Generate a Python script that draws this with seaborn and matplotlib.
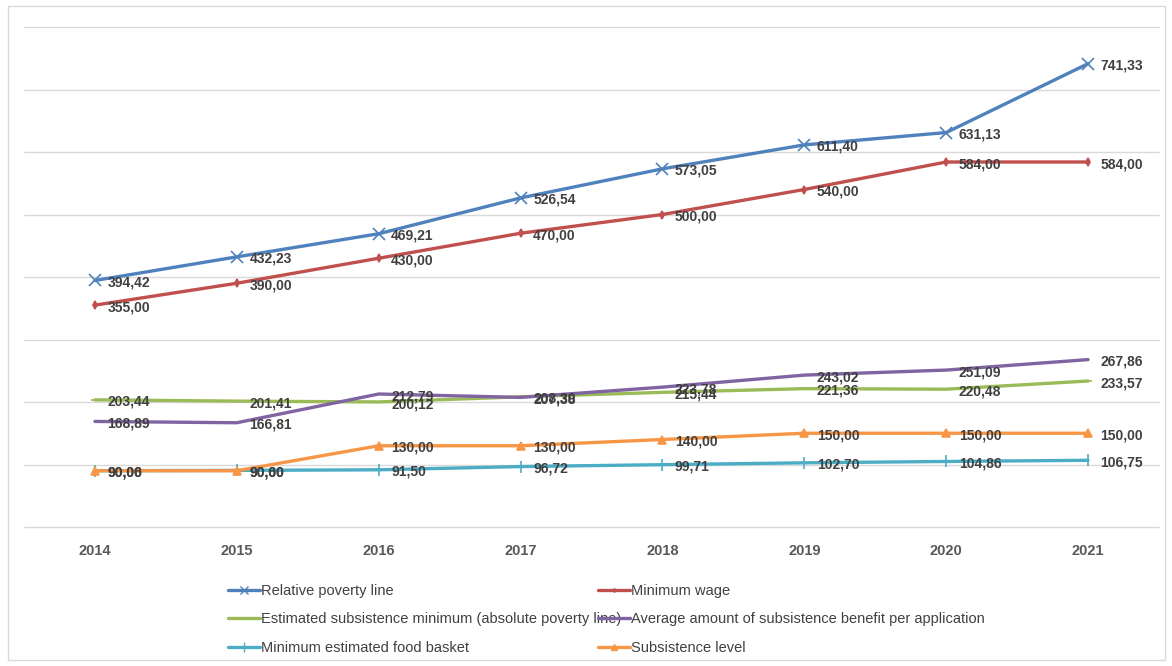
import matplotlib
matplotlib.use("Agg")
import matplotlib.pyplot as plt
import seaborn as sns
import pandas as pd
from matplotlib.patches import Rectangle
from matplotlib.lines import Line2D

years = ["2014", "2015", "2016", "2017", "2018", "2019", "2020", "2021"]
relative_poverty_line = [394.42, 432.23, 469.21, 526.54, 573.05, 611.40, 631.13, 741.33]
minimum_wage = [355.00, 390.00, 430.00, 470.00, 500.00, 540.00, 584.00, 584.00]
estimated_subsistence_minimum = [203.44, 201.41, 200.12, 208.30, 215.44, 221.36, 220.48, 233.57]
avg_subsistence_benefit = [168.89, 166.81, 212.79, 207.38, 223.78, 243.02, 251.09, 267.86]
food_basket = [90.06, 90.60, 91.50, 96.72, 99.71, 102.70, 104.86, 106.75]
subsistence_level = [90.00, 90.00, 130.00, 130.00, 140.00, 150.00, 150.00, 150.00]

series_names = [
    "Relative poverty line",
    "Minimum wage",
    "Estimated subsistence minimum (absolute poverty line)",
    "Average amount of subsistence benefit per application",
    "Minimum estimated food basket",
    "Subsistence level",
]
series_values = [relative_poverty_line, minimum_wage, estimated_subsistence_minimum,
                 avg_subsistence_benefit, food_basket, subsistence_level]
colors = ["#4F81BD", "#C0504D", "#9BBB59", "#8064A2", "#4BACC6", "#F79646"]
markers = ["x", "d", "_", "", "|", "^"]
msizes = [8, 4, 6, 0, 9, 6]

sns.set_theme(style="white")
plt.rcParams["font.family"] = ["Liberation Sans", "DejaVu Sans"]

rows = []
for name, vals in zip(series_names, series_values):
    for i, (y, v) in enumerate(zip(years, vals)):
        rows.append({"pos": i, "year": y, "value": v, "series": name})
df = pd.DataFrame(rows)

fig = plt.figure(figsize=(11.72, 6.66), dpi=100)
fig.patches.append(Rectangle((8 / 1172, 6 / 666), 1157 / 1172, 654 / 666, transform=fig.transFigure,
                             fill=False, edgecolor="#D9D9D9", linewidth=1.0))
ax = fig.add_axes([24 / 1172, 139 / 666, 1135 / 1172, 500 / 666])

for name, col, mk, ms in zip(series_names, colors, markers, msizes):
    sub = df[df["series"] == name]
    sns.lineplot(data=sub, x="pos", y="value", ax=ax, color=col, linewidth=2.4,
                 marker=mk if mk else None, markersize=ms, markeredgecolor=col,
                 markeredgewidth=1.2, legend=False)

label_font = dict(family=["Liberation Sans Narrow", "Liberation Sans", "DejaVu Sans"],
                  fontsize=10, fontweight="bold", color="#404040")
for name, vals in zip(series_names, series_values):
    for i, v in enumerate(vals):
        txt = f"{v:.2f}".replace(".", ",")
        ax.annotate(txt, xy=(i, v), xytext=(9, -1.5), textcoords="offset points",
                    ha="left", va="center", **label_font)

ax.set_xlim(-0.5, 7.5)
ax.set_ylim(0, 800)
ax.set_yticks(range(0, 801, 100))
ax.set_yticklabels([])
ax.set_xticks(range(len(years)))
ax.set_xticklabels(years, fontsize=10.5, fontweight="bold", color="#595959")
ax.tick_params(axis="x", length=0, pad=12)
ax.tick_params(axis="y", length=0)
ax.grid(axis="y", color="#D9D9D9", linewidth=1.0)
ax.grid(axis="x", visible=False)
for gl in ax.get_ygridlines():
    gl.set_clip_on(False)
for s in ax.spines.values():
    s.set_visible(False)
ax.set_xlabel("")
ax.set_ylabel("")

handles = [Line2D([0], [0], color=c, linewidth=2.4, marker=(m if m else None), markersize=max(ms - 2, 0),
                  markeredgecolor=c) for c, m, ms in zip(colors, markers, msizes)]
leg_font = {"family": ["Liberation Sans Narrow", "Liberation Sans", "DejaVu Sans"], "size": 10.5}
leg1 = fig.legend([handles[0], handles[2], handles[4]], [series_names[0], series_names[2], series_names[4]],
                  loc="upper left", bbox_to_anchor=(222 / 1172, 1 - 578 / 666), frameon=False,
                  prop=leg_font, handlelength=2.2, handletextpad=0.1, labelspacing=1.0,
                  borderaxespad=0, labelcolor="#404040")
leg2 = fig.legend([handles[1], handles[3], handles[5]], [series_names[1], series_names[3], series_names[5]],
                  loc="upper left", bbox_to_anchor=(592 / 1172, 1 - 578 / 666), frameon=False,
                  prop=leg_font, handlelength=2.2, handletextpad=0.1, labelspacing=1.0,
                  borderaxespad=0, labelcolor="#404040")

fig.savefig("out.png", dpi=100)
